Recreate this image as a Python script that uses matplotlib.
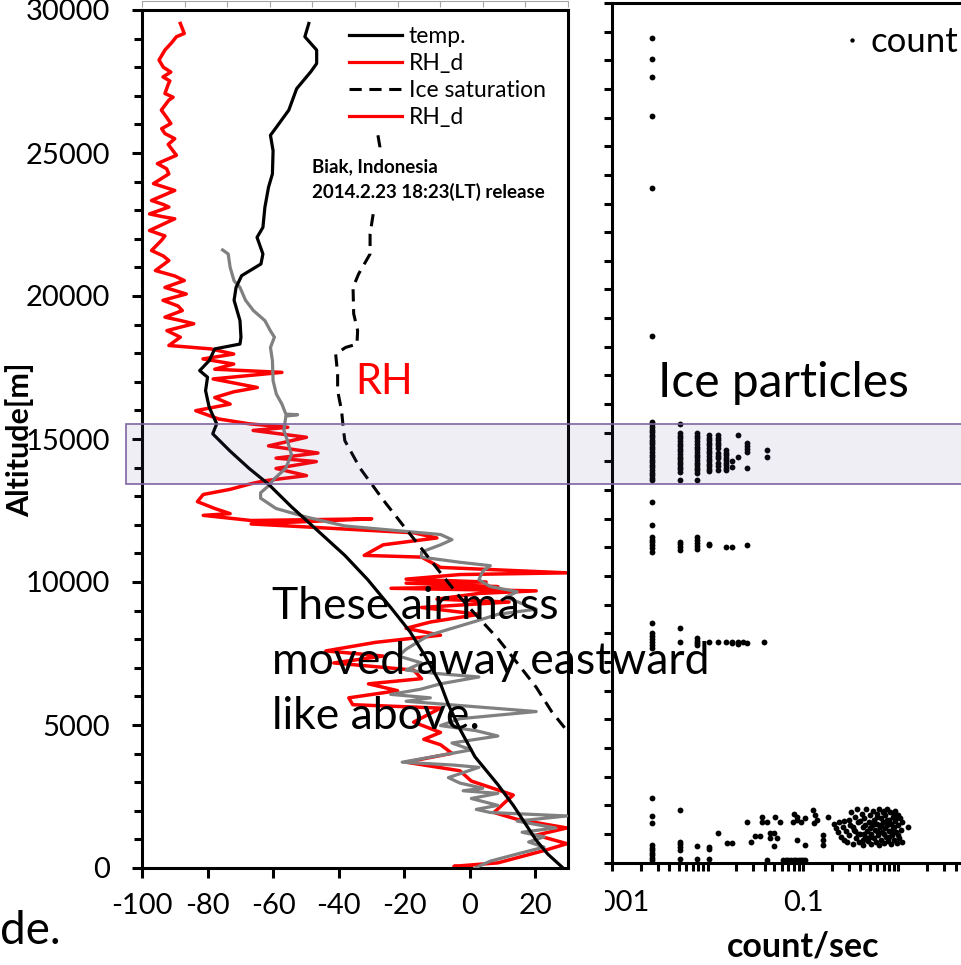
import matplotlib
matplotlib.use("Agg")
import matplotlib.pyplot as plt
from matplotlib.lines import Line2D
from matplotlib.patches import Rectangle
from matplotlib.ticker import FixedLocator, FixedFormatter, MultipleLocator

plt.rcParams['font.family'] = ['Lato', 'DejaVu Sans']
plt.rcParams['axes.unicode_minus'] = False

# ---------------- data (left panel: temperature / RH profiles) ----------------
temp_x = [-49.1, -50.3, -46.7, -46.7, -48.5, -52.8, -55.2, -59.0, -60.8, -60.0, -60.2, -61.4,
          -62.5, -63.1, -64.9, -63.1, -63.7, -69.6, -71.3, -71.9, -70.1, -69.8, -70.1, -77.8,
          -79.5, -82.4, -80.0, -80.6, -79.5, -77.2, -77.8, -78.4, -73.1, -67.3, -61.4, -54.4,
          -47.4, -38.1, -31.1, -24.1, -18.2, -13.6, -8.9, -6.5, -3.0, 1.6, 8.6, 13.3, 16.8,
          20.3, 23.8, 28.5]
temp_alt = [29530, 29065, 28600, 28130, 27840, 27250, 26500, 25900, 25620, 25080, 24270, 23800,
            23100, 22400, 22050, 21470, 21120, 20710, 20300, 19850, 19140, 18560, 18320, 18150,
            17740, 17390, 17160, 16690, 16110, 15530, 15364, 15180, 14575, 13970, 13420, 12630,
            11900, 10930, 10080, 9110, 8260, 7410, 6440, 5710, 4860, 3890, 2915, 2190, 1580,
            970, 490, 0]

rh_x = [-88.3, -87.1, -89.5, -91.0, -93.0, -94.8, -93.5, -91.2, -93.6, -91.5, -92.0, -93.0,
        -90.5, -91.8, -94.1, -92.5, -91.2, -94.0, -93.0, -90.0, -92.0, -89.5, -95.3, -92.5,
        -91.8, -96.5, -93.0, -90.0, -97.1, -93.5, -91.8, -97.7, -94.0, -90.0, -97.7, -93.0,
        -94.1, -97.1, -93.5, -91.8, -95.9, -90.0, -87.1, -93.0, -86.5, -93.6, -89.0, -87.7,
        -93.0, -88.5, -84.2, -92.4, -88.3, -91.8, -79.0, -72.0, -81.4, -72.0, -77.8, -57.3,
        -78.3, -64.8, -72.0, -77.8, -73.1, -83.6, -76.6, -67.2, -55.5, -66.1, -49.8, -61.4,
        -46.3, -59.1, -46.8, -59.1, -49.8, -62.6, -67.3, -73.1, -81.3, -83.1, -77.8, -73.1,
        -81.3, -66.7, -29.9, -66.7, -17.1, -10.0, -26.4, -32.2, -14.7, -8.9, 29.7, -3.0,
        -19.4, 5.0, -19.4, 8.6, -24.0, 20.3, 2.8, -10.0, 12.0, -14.7, 2.8, -12.0, -19.4,
        -8.9, -28.7, -43.9, -26.4, -41.5, -17.1, -14.7, -30.9, -22.0, -36.9, -35.7, -8.9,
        -17.1, -8.9, -14.0, -8.9, -5.4, -19.4, -3.0, 0.5, 13.3, 10.9, 7.4, 14.5, 29.7, 20.3,
        29.7, 22.7, 8.6, -4.8, 0.5]
rh_alt = [29530, 29180, 29065, 28850, 28600, 28250, 28000, 27830, 27660, 27520, 27400, 27080,
          26950, 26850, 26500, 26250, 26030, 25850, 25680, 25500, 25300, 24920, 24630, 24450,
          24270, 23930, 23800, 23690, 23340, 23200, 23110, 22870, 22780, 22700, 22290, 22100,
          21940, 21590, 21400, 21240, 20890, 20700, 20540, 20300, 20070, 19850, 19650, 19490,
          19260, 19150, 19030, 18790, 18560, 18270, 18150, 17970, 17800, 17620, 17440, 17330,
          17100, 16800, 16650, 16450, 16220, 15990, 15700, 15530, 15410, 15300, 15060, 14760,
          14510, 14330, 14210, 13970, 13720, 13540, 13420, 13240, 13060, 12810, 12570, 12390,
          12330, 12150, 12210, 12030, 11720, 11540, 11300, 10930, 10870, 10510, 10320, 10260,
          10100, 10000, 9960, 9840, 9780, 9690, 9600, 9400, 9300, 9110, 8870, 8600, 8380,
          8140, 7890, 7590, 7410, 7170, 6920, 6620, 6440, 6200, 5950, 5710, 5590, 5100, 4740,
          4500, 4310, 4010, 3700, 3400, 3040, 2550, 2310, 1940, 1700, 1400, 1150, 850, 610,
          180, 60, 0]

gray_x = [-75.4, -73.7, -73.1, -71.9, -70.1, -68.4, -66.0, -62.5, -60.8, -59.6, -60.8, -60.2,
          -60.0, -59.0, -57.3, -56.1, -52.5, -56.1, -56.7, -55.6, -54.4, -56.2, -59.7, -61.4,
          -63.8, -63.8, -59.1, -49.8, -38.1, -20.6, -8.9, -5.4, -8.9, -14.7, -14.7, -3.0, 6.3,
          4.0, 2.8, 6.3, 14.5, 11.0, 20.3, 8.6, 1.6, -5.4, -12.4, -19.4, -21.7, -14.7, -19.4,
          -10.0, 2.8, -8.9, -15.0, -24.1, -12.0, -19.4, 20.3, -3.0, -8.9, 2.0, 8.6, -5.4,
          0.5, -20.6, -5.0, 2.8, -6.5, -3.0, 4.0, -2.0, 8.6, 0.5, 8.6, 2.0, 6.3, 29.7, 14.5,
          26.2, 16.0, 22.7, 18.0, 22.7, 14.5, 6.3, 1.6]
gray_alt = [21610, 21470, 21000, 20530, 20300, 19850, 19490, 19140, 18780, 18560, 18200, 17740,
            17040, 16570, 16220, 15870, 15850, 15800, 15300, 14940, 14450, 13970, 13600, 13360,
            13120, 12930, 12570, 12270, 11960, 11780, 11660, 11480, 11300, 11050, 10870, 10690,
            10570, 10380, 10080, 9840, 9660, 9470, 9050, 8870, 8620, 8380, 8140, 7650, 7410,
            7170, 6920, 6800, 6680, 6440, 6250, 6070, 5950, 5830, 5470, 5220, 4980, 4800, 4615,
            4370, 4130, 3700, 3600, 3520, 3160, 2970, 2790, 2700, 2610, 2430, 2190, 2050, 1940,
            1820, 1640, 1400, 1250, 1090, 910, 730, 490, 240, 0]

ice_x = [-28.0, -27.4, -28.4, -29.2, -30.4, -30.4, -33.9, -35.6, -35.4, -34.2, -34.4, -37.9,
         -40.9, -40.3, -40.3, -39.1, -38.5, -38.1, -33.4, -26.4, -20.6, -14.7, -8.9, -3.0, 2.8,
         8.6, 14.5, 20.3, 25.0, 29.7, 31.0]
ice_alt = [25620, 25210, 24000, 23050, 22170, 21470, 20770, 20300, 19380, 18790, 18320, 18200,
           17970, 17270, 16690, 15990, 15300, 14940, 13970, 12870, 12020, 11170, 10320, 9470,
           8740, 8020, 7170, 6320, 5470, 4800, 4600]

x_ticks = [-100, -80, -60, -40, -20, 0, 20]
y_ticks = [0, 5000, 10000, 15000, 20000, 25000, 30000]

# ---------------- data (right panel: particle counts) ----------------
count_rate = (
    [0.0026] * 6
    + [0.0026] * 24 + [0.0052] * 18 + [0.0078] * 17 + [0.0104] * 15 + [0.013] * 12
    + [0.0156] * 9 + [0.0182] * 2 + [0.0208] * 2 + [0.026] * 5 + [0.0416] * 2
    + [0.0026] * 8 + [0.0052] * 4 + [0.0078] * 5 + [0.0104] * 2 + [0.0156, 0.0182, 0.026]
    + [0.0026] * 7 + [0.0052] * 2 + [0.0078] * 4 + [0.0104, 0.013, 0.0156, 0.0182, 0.0182,
                                                    0.0208, 0.0208, 0.0234, 0.026, 0.039]
    + [0.0026] * 10 + [0.0052] * 6 + [0.0078] * 2 + [0.0104] * 3
    + [0.013, 0.0159, 0.0179, 0.0257, 0.0283, 0.0314, 0.0354, 0.0369, 0.0369, 0.0416, 0.0416,
       0.045, 0.045, 0.05, 0.05, 0.053, 0.051, 0.057, 0.062, 0.066, 0.070, 0.075, 0.080,
       0.085, 0.090, 0.095, 0.100, 0.105, 0.078, 0.086, 0.086, 0.080, 0.087, 0.095, 0.104,
       0.104, 0.127, 0.132, 0.139, 0.130, 0.162, 0.162, 0.162, 0.184]
    + [0.21, 0.22, 0.23, 0.24, 0.25, 0.26, 0.27, 0.28, 0.29, 0.30, 0.30, 0.31, 0.32, 0.33,
       0.34, 0.35, 0.36, 0.37, 0.38, 0.39, 0.40, 0.41, 0.42, 0.43, 0.44, 0.45, 0.46, 0.47,
       0.48, 0.49, 0.50, 0.51, 0.52, 0.53, 0.54, 0.55, 0.56, 0.57, 0.58, 0.59, 0.60, 0.61,
       0.62, 0.63, 0.64, 0.65, 0.66, 0.67, 0.68, 0.69, 0.70, 0.72, 0.73, 0.74, 0.75, 0.76,
       0.78, 0.79, 0.80, 0.82, 0.83, 0.84, 0.86, 0.87, 0.88, 0.90, 0.91, 0.93, 0.95, 0.96,
       0.98, 1.00, 1.02, 1.04, 1.06, 1.08, 1.10, 1.26,
       0.35, 0.38, 0.42, 0.45, 0.50, 0.55, 0.60, 0.65, 0.70, 0.75, 0.80, 0.85, 0.90, 0.95,
       1.00, 0.40, 0.60, 0.70, 0.80, 0.90, 0.50, 0.44, 0.33, 0.27]
)
count_alt = (
    [28770, 28040, 27430, 26050, 23530, 18380]
    + [15380, 15290, 15200, 15110, 15020, 14930, 14850, 14760, 14680, 14590, 14500, 14420,
       14330, 14240, 14150, 14060, 13970, 13880, 13790, 13700, 13610, 13520, 13430, 13340]
    + [15300, 14980, 14890, 14800, 14710, 14620, 14530, 14440, 14350, 14260, 14170, 14080,
       13990, 13900, 13810, 13720, 13630, 13350]
    + [14980, 14890, 14800, 14700, 14610, 14520, 14420, 14330, 14240, 14140, 14050, 13960,
       13870, 13780, 13690, 13600, 13350]
    + [14920, 14830, 14740, 14650, 14560, 14470, 14380, 14290, 14200, 14100, 14010, 13920,
       13830, 13740, 13650]
    + [14920, 14830, 14740, 14650, 14560, 14470, 14290, 14200, 14110, 13930, 13840, 13700]
    + [14400, 14310, 14220, 14130, 14040, 13950, 13860, 13770, 13700]
    + [14020, 13800]
    + [14920, 14160]
    + [14630, 14540, 14440, 14340, 13760]
    + [14400, 14160]
    + [12590, 11780, 11370, 11270, 11170, 11070, 10960, 10850]
    + [11200, 11100, 11000, 10900]
    + [11370, 11260, 11150, 11040, 10940]
    + [11080, 11130]
    + [11020, 11020, 11080]
    + [8350, 8000, 7900, 7800, 7700, 7600, 7480]
    + [8195, 7705]
    + [7825, 7740, 7660, 7590]
    + [7705, 7700, 7690, 7710, 7660, 7700, 7640, 7700, 7660, 7705]
    + [2240, 1620, 1370, 610, 520, 430, 340, 250, 160, 90]
    + [1830, 730, 640, 540, 440, 110]
    + [590, 110]
    + [540, 460, 110]
    + [1020, 670, 670, 1420, 705, 925, 925, 1600, 1410, 1410, 87,
       1020, 845, 565, 1020, 845, 1600, 1410, 87, 87, 87, 87, 87,
       87, 87, 87, 87, 87, 1410, 1600, 775, 1710, 1480, 1420, 1540,
       600, 1830, 1650, 1500, 1380, 950, 770, 600, 1590]
    + [1350, 1200, 1050, 1400, 900, 1250, 800, 1100, 700, 1500, 950, 1300, 1750, 650,
       1150, 1600, 850, 1850, 1400, 700, 1000, 1700, 1250, 620, 1550, 900, 1850, 1100,
       750, 1400, 1650, 1000, 650, 1300, 1800, 850, 1500, 1150, 700, 1700, 1350, 950,
       1850, 620, 1250, 1550, 800, 1050, 1750, 1400, 680, 1200, 1650, 900, 1850, 1300,
       750, 1500, 1100, 1750, 640, 1350, 950, 1600, 1200, 780, 1800, 1450, 1050, 680,
       1650, 1300, 850, 1550, 1150, 700, 1400, 1240,
       1100, 1000, 800, 1300, 1200, 1350, 1100, 1300, 1000, 1500, 1400, 1100, 1250, 1550,
       950, 1450, 1600, 1800, 900, 1650, 900, 1000, 1250, 1450]
)

count_major = [0.001, 0.1, 10]
count_major_labels = ["0.001", "0.1", ""]

# ---------------- figure ----------------
W, H = 961, 965
fig = plt.figure(figsize=(W / 100, H / 100), dpi=100)
fig.patch.set_facecolor('white')


def fx(px):
    return px / W


def fy(py):
    return 1 - py / H


SP = 2.2  # spine width

# left panel
ax1 = fig.add_axes([fx(142), fy(868), (568 - 142) / W, (868 - 10) / H])
ax1.plot(temp_x, temp_alt, color='black', lw=2.3, zorder=4)
ax1.plot(gray_x, gray_alt, color='#808080', lw=2.3, zorder=3)
ax1.plot(rh_x, rh_alt, color='#ff0000', lw=2.5, zorder=2)
ax1.plot(ice_x, ice_alt, color='black', lw=2.2, dashes=(4, 2.5), zorder=4)
ax1.set_xlim(-100, 30)
ax1.set_ylim(0, 30000)
ax1.set_xticks(x_ticks)
ax1.set_yticks(y_ticks)
ax1.yaxis.set_minor_locator(MultipleLocator(1000))
for s in ax1.spines.values():
    s.set_linewidth(SP)
ax1.tick_params(axis='both', which='major', direction='out', length=7, width=SP,
                labelsize=21, colors='black')
ax1.tick_params(axis='y', which='minor', direction='out', length=5.5, width=SP)
ax1.tick_params(axis='y', which='major', pad=16)
ax1.tick_params(axis='x', which='major', pad=11)
ax1.tick_params(axis='x', which='minor', bottom=False)

handles = [Line2D([], [], color='black', lw=2.3),
           Line2D([], [], color='#ff0000', lw=2.3),
           Line2D([], [], color='black', lw=2.2, dashes=(4, 2.5)),
           Line2D([], [], color='#ff0000', lw=2.3)]
labels = ['temp.', 'RH_d', 'Ice saturation', 'RH_d']
ax1.legend(handles, labels, loc='upper left', bbox_to_anchor=(fx(349), fy(26)),
           bbox_transform=fig.transFigure, frameon=False, fontsize=16.5,
           handlelength=2.3, handletextpad=0.3, labelspacing=0.26,
           borderpad=0, borderaxespad=0)

# right panel
ax2 = fig.add_axes([fx(612), fy(862.5), (994 - 612) / W, (862.5 - 3) / H])
ax2.plot(count_rate, count_alt, 'o', color='black', ms=4.2, mew=0, zorder=3,
         label='count')
ax2.set_xscale('log')
ax2.set_xlim(0.001, 10)
ax2.set_ylim(0, 30000)
ax2.yaxis.set_major_locator(MultipleLocator(1000))
ax2.tick_params(axis='y', which='major', direction='out', length=6, width=SP,
                labelleft=False)
ax2.xaxis.set_major_locator(FixedLocator(count_major))
ax2.xaxis.set_major_formatter(FixedFormatter(count_major_labels))
minors = [m * 10.0 ** e for e in range(-3, 1) for m in range(1, 10)
          if m * 10.0 ** e not in (0.001, 0.1, 10)]
ax2.xaxis.set_minor_locator(FixedLocator(minors))
ax2.xaxis.set_minor_formatter(FixedFormatter([''] * len(minors)))
ax2.tick_params(axis='x', which='major', direction='out', length=6, width=SP,
                labelsize=21, pad=14)
ax2.tick_params(axis='x', which='minor', direction='out', length=6, width=SP)
for s in ax2.spines.values():
    s.set_linewidth(SP)
ax2.legend(loc='upper left', bbox_to_anchor=(fx(843), fy(26)),
           bbox_transform=fig.transFigure, frameon=False, fontsize=25,
           handlelength=0.5, handletextpad=0.3, markerscale=0.75,
           borderpad=0, borderaxespad=0)

# thin gray axis line at the very top
ax0 = fig.add_axes([fx(142), fy(7), (568 - 142) / W, 6 / H])
ax0.set_xlim(0, 10)
ax0.set_xticks(range(11))
for k in ('left', 'right', 'bottom'):
    ax0.spines[k].set_visible(False)
ax0.spines['top'].set_color('#a6a6a6')
ax0.spines['top'].set_linewidth(0.8)
ax0.tick_params(axis='x', top=True, bottom=False, labeltop=False, labelbottom=False,
                direction='in', length=4, width=0.8, color='#a6a6a6')
ax0.set_yticks([])
ax0.patch.set_alpha(0)

# highlighted altitude band (overlay)
fig.patches.append(Rectangle((fx(126), fy(484)), (980 - 126) / W, (484 - 424) / H,
                             transform=fig.transFigure, facecolor=(0.45, 0.35, 0.65, 0.1),
                             edgecolor='#8064a2', lw=1.2, zorder=5))

# white box behind station annotation
fig.patches.append(Rectangle((fx(306), fy(208)), (556 - 306) / W, (208 - 150) / H,
                             transform=fig.transFigure, facecolor='white',
                             edgecolor='none', zorder=3))
fig.text(fx(312), fy(167), 'Biak, Indonesia', fontsize=13.5, fontweight='bold',
         va='center', ha='left', zorder=6)
fig.text(fx(312), fy(192), '2014.2.23 18:23(LT) release', fontsize=13.5, fontweight='bold',
         va='center', ha='left', zorder=6)

# white cover hiding the left part of the "0.001" label
fig.patches.append(Rectangle((fx(570), fy(930)), (605 - 570) / W, (930 - 880) / H,
                             transform=fig.transFigure, facecolor='white',
                             edgecolor='none', zorder=10))

# slide texts
fig.text(fx(355), fy(382), 'RH', color='#ff0000', fontsize=30, va='center', ha='left',
         zorder=6)
fig.text(fx(658), fy(383), 'Ice particles', color='black', fontsize=34.5, va='center',
         ha='left', zorder=6)
fig.text(fx(272), fy(586), 'These air mass\nmoved away eastward\nlike above.',
         fontsize=32, va='top', ha='left', linespacing=1.42, zorder=6)
fig.text(fx(0), fy(944), 'de.', fontsize=33, va='baseline', ha='left', zorder=6)
fig.text(fx(20), fy(440), 'Altitude[m]', fontsize=22, fontweight='bold', rotation=90,
         va='center', ha='center', zorder=6)
fig.text(fx(803), fy(946), 'count/sec', fontsize=24.5, fontweight='bold', va='center',
         ha='center', zorder=6)

fig.savefig('out.png', dpi=100)
